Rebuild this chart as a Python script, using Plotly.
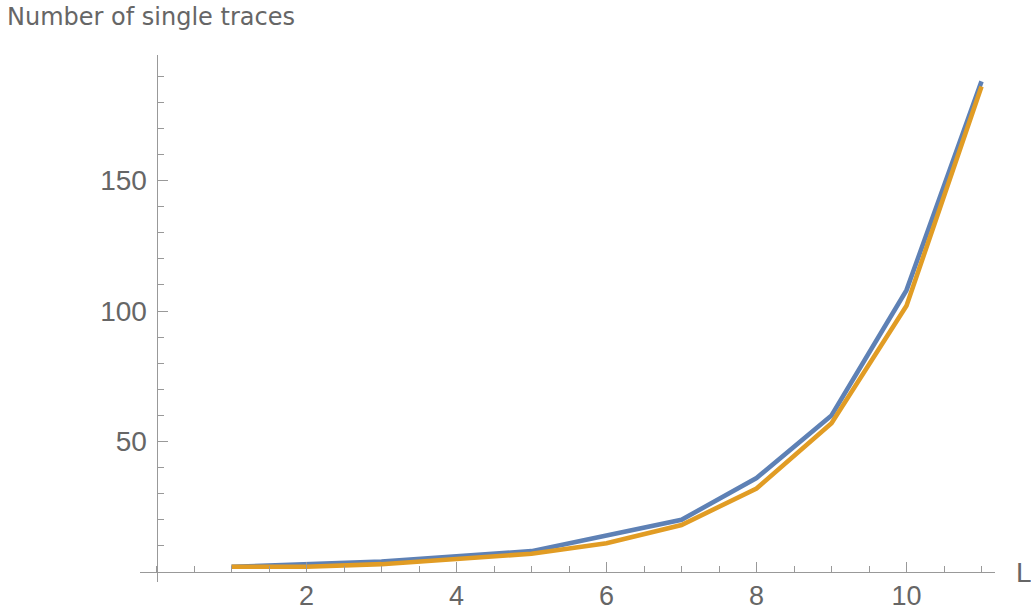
import plotly.graph_objects as go

# Chain length L and the number of single traces for each of the two counts
L_values = [1, 2, 3, 4, 5, 6, 7, 8, 9, 10, 11]
traces_blue = [2, 3, 4, 6, 8, 14, 20, 36, 60, 108, 188]
traces_orange = [2, 2, 3, 5, 7, 11, 18, 32, 57, 102, 186]

x_major_ticks = [2, 4, 6, 8, 10]
y_major_ticks = [50, 100, 150]

W, H = 1031, 610
left, right, top, bottom = 140, 36, 55, 28
x_range = [-0.22, 11.18]
y_range = [-3.83, 198.1]

axis_grey = "#999999"
label_grey = "#666666"

fig = go.Figure()
fig.add_trace(go.Scatter(x=L_values, y=traces_blue, mode="lines",
                         line=dict(color="#5E81B5", width=4.6)))
fig.add_trace(go.Scatter(x=L_values, y=traces_orange, mode="lines",
                         line=dict(color="#E19C24", width=4.6)))

# axes cross at the origin, so place each axis at the other's zero
x_axis_pos = (0 - y_range[0]) / (y_range[1] - y_range[0])
y_axis_pos = (0 - x_range[0]) / (x_range[1] - x_range[0])

fig.update_layout(
    width=W, height=H,
    margin=dict(l=left, r=right, t=top, b=bottom, pad=0, autoexpand=False),
    plot_bgcolor="white", paper_bgcolor="white",
    showlegend=False,
    hovermode=False,
    font=dict(family="Liberation Sans, Arial, sans-serif", color=label_grey, size=28),
    xaxis=dict(
        range=x_range, anchor="free", position=x_axis_pos, automargin=False,
        showgrid=False, zeroline=False,
        showline=True, linecolor=axis_grey, linewidth=1,
        tickmode="array", tickvals=x_major_ticks,
        ticks="inside", ticklen=10, tickwidth=1, tickcolor=axis_grey,
        tickfont=dict(size=27, color=label_grey),
        ticklabelstandoff=0,
        minor=dict(tickmode="linear", tick0=0, dtick=0.5, ticks="inside",
                   ticklen=6, tickwidth=1, tickcolor=axis_grey, showgrid=False),
    ),
    yaxis=dict(
        range=y_range, anchor="free", position=y_axis_pos, automargin=False,
        showgrid=False, zeroline=False,
        showline=True, linecolor=axis_grey, linewidth=1,
        tickmode="array", tickvals=y_major_ticks,
        ticks="inside", ticklen=10, tickwidth=1, tickcolor=axis_grey,
        tickfont=dict(size=28, color=label_grey),
        ticklabelstandoff=4,
        minor=dict(tickmode="linear", tick0=0, dtick=10, ticks="inside",
                   ticklen=6, tickwidth=1, tickcolor=axis_grey, showgrid=False),
    ),
)

plot_w = W - left - right
plot_h = H - top - bottom

def px_to_paper_x(px):
    return (px - left) / plot_w

def px_to_paper_y(py):
    return (H - bottom - py) / plot_h

fig.add_annotation(text="Number of single traces", xref="paper", yref="paper",
                   x=px_to_paper_x(5), y=px_to_paper_y(17), xanchor="left",
                   yanchor="middle", showarrow=False,
                   font=dict(family="DejaVu Sans, sans-serif", size=24,
                             color=label_grey))
fig.add_annotation(text="L", xref="paper", yref="y",
                   x=px_to_paper_x(1014), y=0, xanchor="left",
                   yanchor="middle", showarrow=False,
                   font=dict(size=28, color=label_grey))

fig.write_html("out.html", config={"displayModeBar": False, "staticPlot": True})
